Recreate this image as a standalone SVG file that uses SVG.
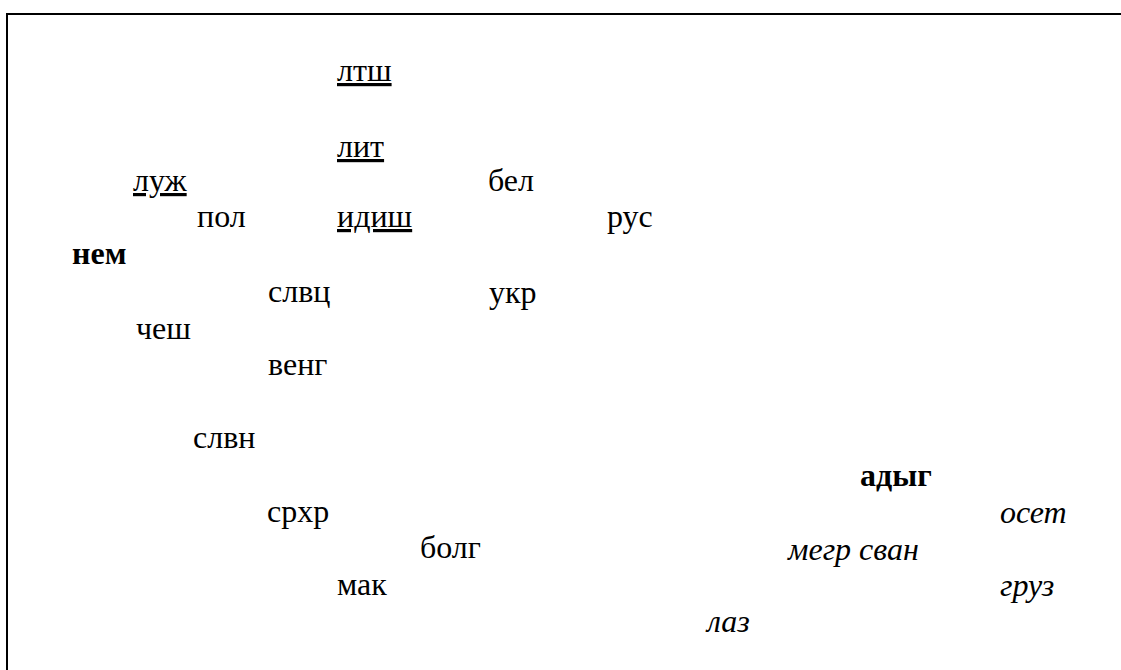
<svg xmlns="http://www.w3.org/2000/svg" width="1121" height="670" viewBox="0 0 1121 670">
<style>
text{font-family:"Liberation Serif","Times New Roman",serif;font-size:32px;fill:#000}
.u{text-decoration:underline}
.b{font-weight:bold}
.i{font-style:italic}
</style>
<rect width="1121" height="670" fill="#fff"/>
<rect x="7" y="14" width="1200" height="700" fill="none" stroke="#000" stroke-width="2"/>
<g id="connectors"/>
<g id="nodes">
<g id="n-ltsh"><text class="u" x="337" y="81">лтш</text></g>
<g id="n-lit"><text class="u" x="337" y="157">лит</text></g>
<g id="n-luzh"><text class="u" x="133" y="191">луж</text></g>
<g id="n-bel"><text x="488" y="191">бел</text></g>
<g id="n-pol"><text x="197" y="227">пол</text></g>
<g id="n-idish"><text class="u" x="337" y="227">идиш</text></g>
<g id="n-rus"><text x="607" y="227">рус</text></g>
<g id="n-nem"><text class="b" x="72" y="264">нем</text></g>
<g id="n-slvc"><text x="268" y="302">слвц</text></g>
<g id="n-ukr"><text x="489" y="303">укр</text></g>
<g id="n-chesh"><text x="136" y="339">чеш</text></g>
<g id="n-veng"><text x="268" y="375">венг</text></g>
<g id="n-slvn"><text x="193" y="448">слвн</text></g>
<g id="n-adyg"><text class="b" x="860" y="486">адыг</text></g>
<g id="n-srhr"><text x="267" y="522">срхр</text></g>
<g id="n-oset"><text class="i" x="1000" y="523">осет</text></g>
<g id="n-bolg"><text x="420" y="558">болг</text></g>
<g id="n-megr"><text class="i" x="788" y="560">мегр сван</text></g>
<g id="n-mak"><text x="337" y="595">мак</text></g>
<g id="n-gruz"><text class="i" x="1000" y="596">груз</text></g>
<g id="n-laz"><text class="i" x="707" y="632">лаз</text></g>
</g>
</svg>
